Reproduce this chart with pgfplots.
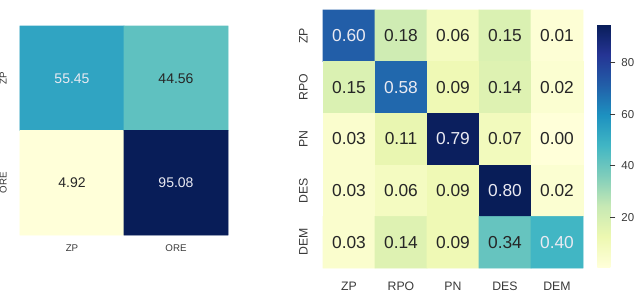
\documentclass[border=0pt]{standalone}
\usepackage{pgfplots}
\pgfplotsset{compat=1.18}
\usepackage{fontspec}
\setmainfont{Liberation Sans}
\definecolor{lbl}{HTML}{3A3A3A}
\definecolor{dtxt}{HTML}{262626}
\definecolor{wtxt}{HTML}{EAEAF2}
\pgfplotsset{colormap={ylgnbu}{rgb255=(255,255,217) rgb255=(237,248,177) rgb255=(199,233,180) rgb255=(127,205,187) rgb255=(65,182,196) rgb255=(29,145,192) rgb255=(34,94,168) rgb255=(37,52,148) rgb255=(8,29,88)}}
\pgfplotsset{heat/.style={
  scale only axis, colormap name=ylgnbu,
  y dir=reverse, axis line style={draw=none}, tick style={draw=none},
  xtick=data, ytick=data,
  xticklabel style={text=lbl}, yticklabel style={text=lbl, rotate=90, anchor=south},
  clip=false,
}}
\begin{document}
\begin{tikzpicture}
\useasboundingbox (0pt,0pt) rectangle (480pt,222.75pt);
% left 2x2
\begin{axis}[heat, at={(15pt,46.5pt)}, anchor=south west, width=156pt, height=156.75pt,
  xmin=-0.5, xmax=1.5, ymin=-0.5, ymax=1.5,
  xtick={0,1}, ytick={0,1}, xticklabels={ZP,ORE}, yticklabels={ZP,ORE},
  ticklabel style={font=\fontsize{7.3}{8}\selectfont},
  xticklabel shift=4pt, yticklabel shift=6.5pt,
  point meta min=4.92, point meta max=95.08]
\addplot[matrix plot*, mesh/cols=2, point meta=explicit] table[meta=v] {
x y v
0 0 55.45
1 0 44.56
0 1 4.92
1 1 95.08
};
\addplot[draw=none, nodes near coords, point meta=explicit symbolic,
  nodes near coords style={anchor=center, font=\fontsize{10.5}{12}\selectfont, text=dtxt}] table[meta=t] {
x y t
1 0 44.56
0 1 4.92
};
\addplot[draw=none, nodes near coords, point meta=explicit symbolic,
  nodes near coords style={anchor=center, font=\fontsize{10.5}{12}\selectfont, text=wtxt}] table[meta=t] {
x y t
0 0 55.45
1 1 95.08
};
\end{axis}
% right 5x5
\begin{axis}[heat, at={(242.25pt,21.75pt)}, anchor=south west, width=195pt, height=193.5pt,
  xmin=-0.5, xmax=4.5, ymin=-0.5, ymax=4.5,
  xtick={0,1,2,3,4}, ytick={0,1,2,3,4},
  xticklabels={ZP,RPO,PN,DES,DEM}, yticklabels={ZP,RPO,PN,DES,DEM},
  ticklabel style={font=\fontsize{9.2}{10}\selectfont},
  xticklabel shift=7pt, yticklabel shift=8pt,
  point meta min=0, point meta max=0.80]
\addplot[matrix plot*, mesh/cols=5, point meta=explicit] table[meta=v] {
x y v
0 0 0.60
1 0 0.18
2 0 0.06
3 0 0.15
4 0 0.01
0 1 0.15
1 1 0.58
2 1 0.09
3 1 0.14
4 1 0.02
0 2 0.03
1 2 0.11
2 2 0.79
3 2 0.07
4 2 0.00
0 3 0.03
1 3 0.06
2 3 0.09
3 3 0.80
4 3 0.02
0 4 0.03
1 4 0.14
2 4 0.09
3 4 0.34
4 4 0.40
};
\addplot[draw=none, nodes near coords, point meta=explicit symbolic,
  nodes near coords style={anchor=center, font=\fontsize{13}{14}\selectfont, text=dtxt}] table[meta=t] {
x y t
1 0 0.18
2 0 0.06
3 0 0.15
4 0 0.01
0 1 0.15
2 1 0.09
3 1 0.14
4 1 0.02
0 2 0.03
1 2 0.11
3 2 0.07
4 2 0.00
0 3 0.03
1 3 0.06
2 3 0.09
4 3 0.02
0 4 0.03
1 4 0.14
2 4 0.09
3 4 0.34
};
\addplot[draw=none, nodes near coords, point meta=explicit symbolic,
  nodes near coords style={anchor=center, font=\fontsize{13}{14}\selectfont, text=wtxt}] table[meta=t] {
x y t
0 0 0.60
1 1 0.58
2 2 0.79
3 3 0.80
4 4 0.40
};
\end{axis}
% colorbar
\begin{axis}[at={(439.5pt,22.5pt)}, anchor=south west, scale only axis, width=9.75pt, height=182.25pt,
  hide axis, xmin=0, xmax=1, ymin=0, ymax=1, colormap name=ylgnbu,
  point meta min=0.6, point meta max=95.1, colorbar,
  colorbar style={at={(parent axis.south west)}, anchor=south west,
    width=9.75pt, height=182.25pt,
    axis line style={draw=none},
    ytick={20,40,60,80}, ytick pos=right, yticklabel pos=right, ytick align=outside,
    major tick length=3.75pt, tick style={draw=lbl, line width=0.8pt},
    yticklabel style={text=lbl, font=\fontsize{8.6}{9}\selectfont, xshift=1pt},
    /pgf/number format/assume math mode=true}]
\end{axis}
\end{tikzpicture}
\end{document}
